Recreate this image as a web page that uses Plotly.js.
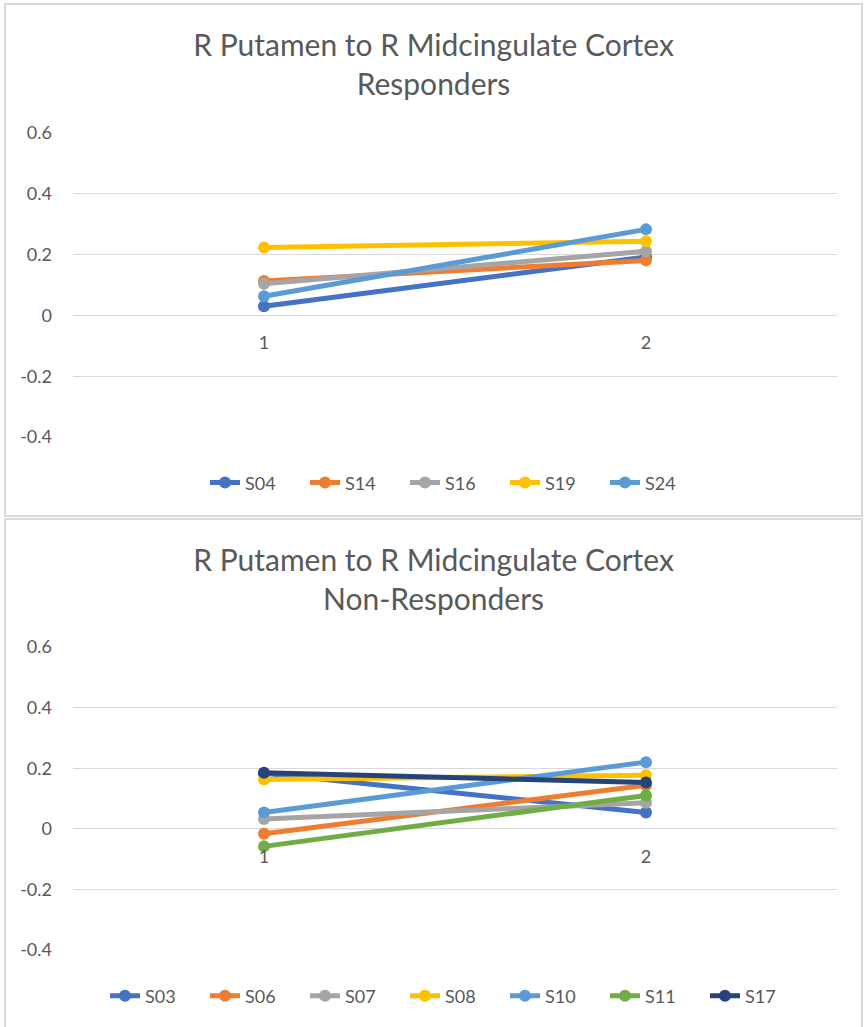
<!DOCTYPE html>
<html>
<head>
<meta charset="utf-8">
<script src="https://cdn.plot.ly/plotly-3.0.1.min.js"></script>
<style>
  html, body { margin: 0; padding: 0; background: #ffffff; width: 866px; height: 1027px; overflow: hidden; }
  .panel { position: absolute; left: 4px; width: 855px; border: 2px solid #d9d9d9; background: #fff; }
  #top { top: 3px; height: 510px; }
  #bottom { top: 518px; height: 511px; }
</style>
</head>
<body>
<div id="top" class="panel"></div>
<div id="bottom" class="panel"></div>
<script>
// ---- data ----
const timepoints = ["1", "2"];

const respNames = ["S04", "S14", "S16", "S19", "S24"];
const S04 = [0.030, 0.192];
const S14 = [0.113, 0.181];
const S16 = [0.104, 0.211];
const S19 = [0.223, 0.244];
const S24 = [0.063, 0.283];
const respValues = [S04, S14, S16, S19, S24];
const respColors = ["#4472C4", "#ED7D31", "#A5A5A5", "#FFC000", "#5B9BD5"];

const nonNames = ["S03", "S06", "S07", "S08", "S10", "S11", "S17"];
const S03 = [0.183, 0.054];
const S06 = [-0.016, 0.144];
const S07 = [0.032, 0.086];
const S08 = [0.163, 0.177];
const S10 = [0.054, 0.220];
const S11 = [-0.058, 0.110];
const S17 = [0.185, 0.153];
const nonValues = [S03, S06, S07, S08, S10, S11, S17];
const nonColors = ["#4472C4", "#ED7D31", "#A5A5A5", "#FFC000", "#5B9BD5", "#70AD47", "#264478"];

const yTicks = [-0.4, -0.2, 0, 0.2, 0.4, 0.6];
const yTickText = ["-0.4", "-0.2", "0", "0.2", "0.4", "0.6"];

const FONT = "Lato, 'Open Sans', sans-serif";
const TXT = "#595959";

function makeTraces(names, values, colors) {
  return names.map((n, i) => ({
    type: "scatter",
    mode: "lines+markers",
    name: n,
    x: timepoints,
    y: values[i],
    line: { color: colors[i], width: 5 },
    marker: { color: colors[i], size: 12 },
    hoverinfo: "x+y+name"
  }));
}

function makeLayout(subtitle, h, t, b, legY) {
  return {
    width: 855, height: h,
    margin: { l: 67, r: 24, t: t, b: b },
    paper_bgcolor: "#ffffff",
    plot_bgcolor: "#ffffff",
    font: { family: FONT, color: TXT, size: 18 },
    title: {
      text: "R Putamen to R Midcingulate Cortex<br>" + subtitle,
      font: { family: FONT, size: 30, color: TXT },
      x: 0.5, xanchor: "center",
      yref: "container", y: 1 - 51 / h, yanchor: "top"
    },
    xaxis: {
      type: "category",
      range: [-0.5, 1.5],
      anchor: "free",
      position: 0.4,
      showgrid: false, zeroline: false, showline: false,
      ticks: "",
      ticklabelstandoff: 15,
      tickfont: { family: FONT, size: 18, color: TXT },
      fixedrange: true
    },
    yaxis: {
      range: [-0.4, 0.6],
      tickvals: yTicks,
      ticktext: yTickText,
      showgrid: true, gridcolor: "#d9d9d9", gridwidth: 1.3,
      zeroline: false, showline: false, ticks: "",
      ticklabelstandoff: 20,
      tickfont: { family: FONT, size: 18, color: TXT },
      fixedrange: true
    },
    showlegend: true,
    legend: {
      orientation: "h",
      x: 0.5, xanchor: "center",
      y: legY, yanchor: "middle",
      entrywidth: 55,
      font: { family: FONT, size: 18, color: TXT },
      bgcolor: "rgba(0,0,0,0)"
    }
  };
}

Plotly.newPlot("top", makeTraces(respNames, respValues, respColors),
  makeLayout("Responders", 510, 128, 78, -0.151), { displayModeBar: false, staticPlot: true });
Plotly.newPlot("bottom", makeTraces(nonNames, nonValues, nonColors),
  makeLayout("Non-Responders", 511, 127, 81, -0.152), { displayModeBar: false, staticPlot: true });
</script>
</body>
</html>
